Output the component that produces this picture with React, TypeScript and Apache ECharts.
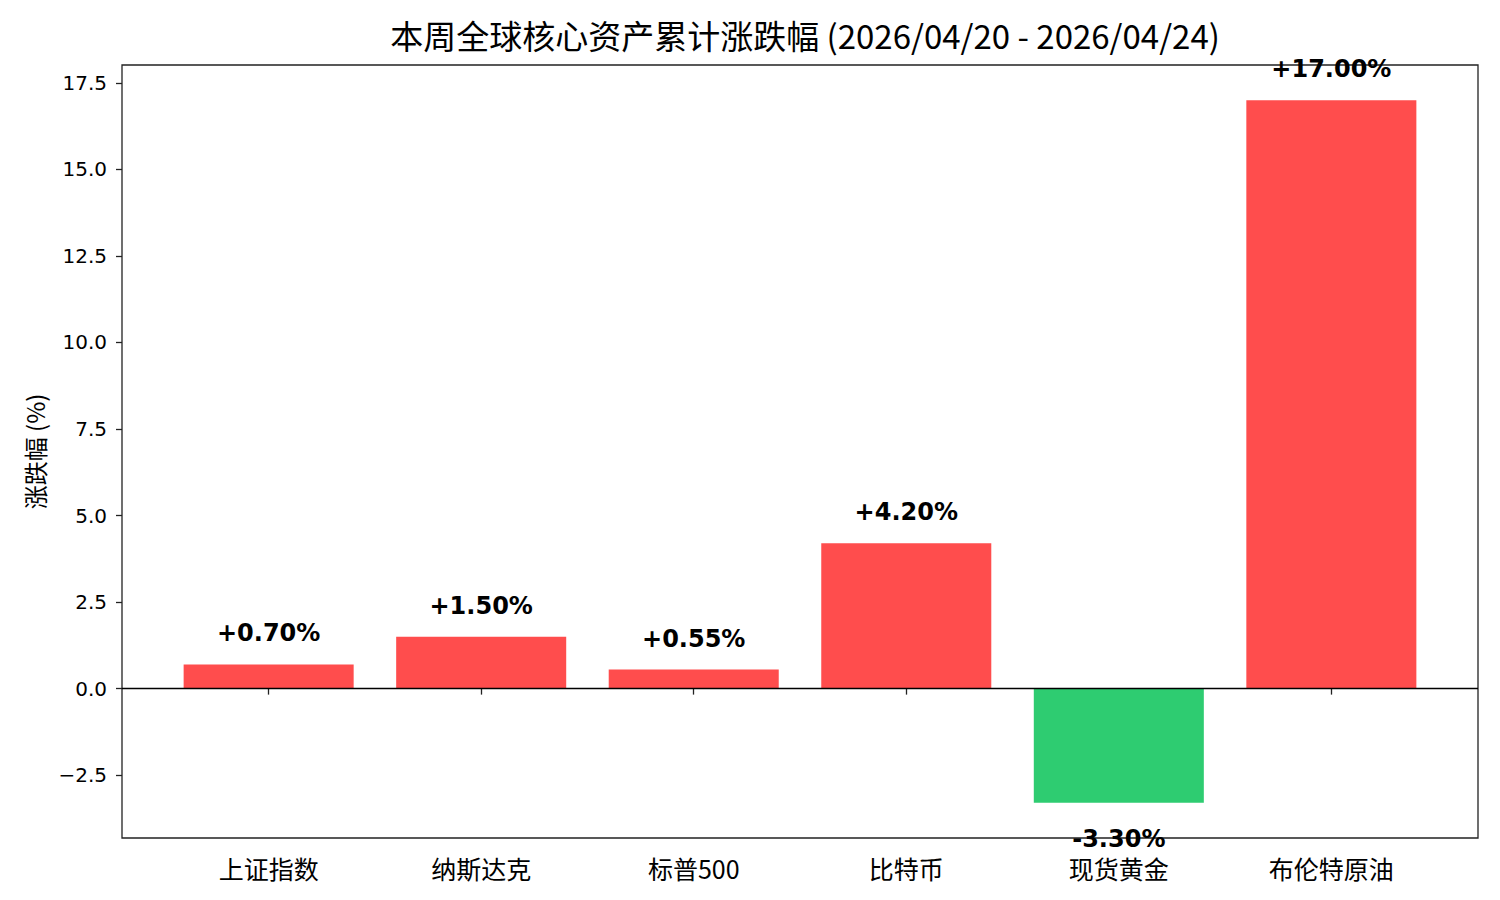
import React, { useEffect, useRef } from 'react';
import * as echarts from 'echarts';

// values
const categories = ['上证指数', '纳斯达克', '标普500', '比特币', '现货黄金', '布伦特原油'];
const weeklyChange = [0.7, 1.5, 0.55, 4.2, -3.3, 17.0];
const yTicks = [-2.5, 0, 2.5, 5, 7.5, 10, 12.5, 15, 17.5];
const yMin = -4.315;
const yMax = 18.015;

const UP_COLOR = '#FF4D4D';
const DOWN_COLOR = '#2ECC71';
const CJK_FONT = '"Noto Sans CJK SC", "DejaVu Sans", sans-serif';

export default function App() {
  const chartRef = useRef<HTMLDivElement>(null);

  useEffect(() => {
    if (!chartRef.current) return;
    const chart = echarts.init(chartRef.current, undefined, { renderer: 'svg' });

    // plot frame is 122..1478 wide; categories sit in an inner grid so the
    // bars get the same side margins as the reference
    const frame = { left: 122, top: 65, width: 1356, height: 773 };
    const unit = frame.width / 6.38;
    const inner = { left: frame.left + 0.19 * unit, top: frame.top, width: 6 * unit, height: frame.height };

    const option = {
      animation: false,
      backgroundColor: '#fff',
      title: {
        text: '本周全球核心资产累计涨跌幅 (2026/04/20 - 2026/04/24)',
        left: frame.left + frame.width / 2,
        textAlign: 'center',
        top: 13,
        textStyle: { fontSize: 33, fontWeight: 'normal', color: '#000', fontFamily: CJK_FONT },
      },
      grid: [
        { ...frame, show: true, borderColor: '#222', borderWidth: 1.3, backgroundColor: 'transparent' },
        { ...inner, show: false },
      ],
      xAxis: [
        { gridIndex: 0, type: 'value', min: 0, max: 1, show: false },
        {
          gridIndex: 1,
          type: 'category',
          data: categories,
          axisLine: { show: false },
          axisTick: { show: true, alignWithLabel: true, length: 6, lineStyle: { color: '#222', width: 1.3 } },
          axisLabel: { fontSize: 25, lineHeight: 24, color: '#000', margin: 18, fontFamily: CJK_FONT },
          splitLine: { show: false },
        },
      ],
      yAxis: [
        {
          gridIndex: 0,
          type: 'value',
          min: yMin,
          max: yMax,
          splitLine: { show: false },
          axisLine: { show: false },
          axisTick: { show: true, length: 6, customValues: yTicks, lineStyle: { color: '#222', width: 1.3 } },
          axisLabel: {
            customValues: yTicks,
            fontSize: 20,
            color: '#000',
            margin: 15,
            fontFamily: '"DejaVu Sans", sans-serif',
            formatter: (v: number) => v.toFixed(1).replace('-', '\u2212'),
          },
          name: '涨跌幅 (%)',
          nameLocation: 'middle',
          nameGap: 76,
          nameTextStyle: { fontSize: 24, color: '#000', fontFamily: CJK_FONT },
        },
        { gridIndex: 1, type: 'value', min: yMin, max: yMax, show: false, splitLine: { show: false } },
      ],
      series: [
        {
          // zero line across the whole frame
          type: 'line',
          xAxisIndex: 0,
          yAxisIndex: 0,
          data: [],
          symbol: 'none',
          markLine: {
            silent: true,
            symbol: 'none',
            label: { show: false },
            lineStyle: { color: '#000', width: 1.4, type: 'solid' },
            data: [{ yAxis: 0 }],
          },
          z: 3,
        },
        {
          type: 'bar',
          xAxisIndex: 1,
          yAxisIndex: 1,
          barWidth: '80%',
          z: 4,
          data: weeklyChange.map((v) => ({
            value: v,
            itemStyle: { color: v >= 0 ? UP_COLOR : DOWN_COLOR },
            label: {
              show: true,
              position: v >= 0 ? 'top' : 'bottom',
              distance: v >= 0 ? 21 : 26,
            },
          })),
          label: {
            show: true,
            fontSize: 24,
            lineHeight: 20,
            fontWeight: 'bold',
            color: '#000',
            fontFamily: '"DejaVu Sans", sans-serif',
            formatter: (p: any) => (p.value >= 0 ? '+' : '') + Number(p.value).toFixed(2) + '%',
          },
        },
      ],
    };

    chart.setOption(option as any);
    return () => chart.dispose();
  }, []);

  return (
    <div
      ref={chartRef}
      style={{ position: 'fixed', left: 0, top: 0, width: 1500, height: 900, background: '#fff' }}
    />
  );
}
